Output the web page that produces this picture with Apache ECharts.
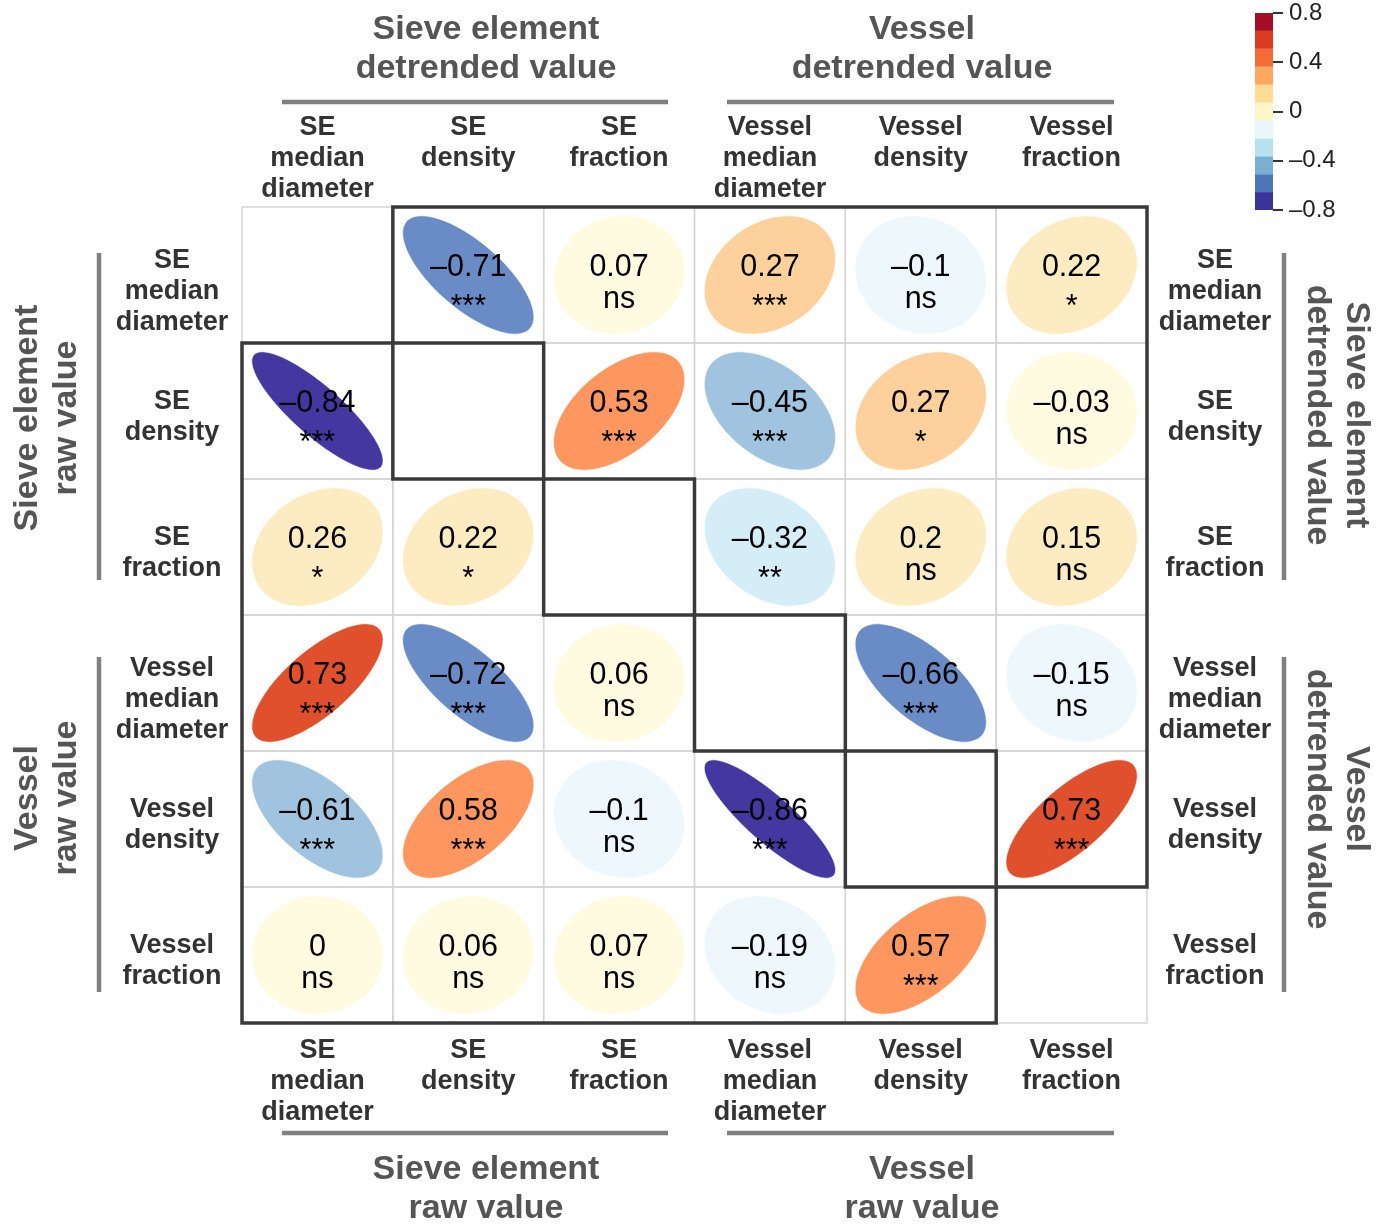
<!DOCTYPE html>
<html><head><meta charset="utf-8">
<script src="https://cdn.jsdelivr.net/npm/echarts@6/dist/echarts.min.js"></script>
<style>html,body{margin:0;padding:0;background:#fff}#chart{width:1386px;height:1224px}</style>
</head><body><div id="chart"></div>
<script>
// ---- data ----
const variables = ['SE\nmedian\ndiameter', 'SE\ndensity', 'SE\nfraction',
                   'Vessel\nmedian\ndiameter', 'Vessel\ndensity', 'Vessel\nfraction'];
// correlation matrix rows (top -> bottom); upper triangle = detrended values, lower = raw values
const corrSEMedianDiameter     = [null,   -0.71,  0.07,  0.2735, -0.10,  0.22];
const corrSEDensity            = [-0.84,  null,   0.53, -0.4548,  0.2735, -0.03];
const corrSEFraction           = [0.26,   0.22,   null, -0.32,   0.20,   0.15];
const corrVesselMedianDiameter = [0.73,  -0.72,   0.06,  null,  -0.66,  -0.15];
const corrVesselDensity        = [-0.61,  0.58,  -0.10, -0.86,   null,   0.73];
const corrVesselFraction       = [0.00,   0.06,   0.07, -0.19,   0.57,   null];
const sigSEMedianDiameter      = ['',    '***', 'ns', '***', 'ns',  '*'];
const sigSEDensity             = ['***', '',    '***','***', '*',   'ns'];
const sigSEFraction            = ['*',   '*',   '',   '**',  'ns',  'ns'];
const sigVesselMedianDiameter  = ['***', '***', 'ns', '',    '***', 'ns'];
const sigVesselDensity         = ['***', '***', 'ns', '***', '',    '***'];
const sigVesselFraction        = ['ns',  'ns',  'ns', 'ns',  '***', ''];
const colorbarMin = -0.8, colorbarMax = 0.8, colorbarInterval = 0.4;

// ---- styles ----
const ellipsePalette = ['#4537A0', '#6A8CC6', '#A0C4DF', '#D5EDF6', '#EEF7FB', '#FFFBE1',
                        '#FDEBC1', '#FDD09C', '#FE965F', '#E0502D', '#B8263A'];
const colorbarPalette = ['#3A3398', '#4A78B9', '#7BAFD0', '#B6E1EE', '#E9F6FA', '#FFF6C8',
                         '#FEDD92', '#FDA85F', '#F46B38', '#DC3A1E', '#A50F26'];
const FONT = '"Liberation Sans", Arial, Helvetica, sans-serif';

const corrRows = [corrSEMedianDiameter, corrSEDensity, corrSEFraction,
                  corrVesselMedianDiameter, corrVesselDensity, corrVesselFraction];
const sigRows = [sigSEMedianDiameter, sigSEDensity, sigSEFraction,
                 sigVesselMedianDiameter, sigVesselDensity, sigVesselFraction];
const n = variables.length;

const cellData = [], gridCells = [];
for (let r = 0; r < n; r++) {
  for (let c = 0; c < n; c++) {
    gridCells.push([c, r]);
    if (corrRows[r][c] !== null) cellData.push([c, r, corrRows[r][c], sigRows[r][c]]);
  }
}
function fmt(v) {
  let s = String(Math.round(v * 100) / 100);
  if (s === '-0') s = '0';
  return s.replace('-', '\u2013');
}
function colorOf(v) {
  const k = Math.min(ellipsePalette.length - 1, Math.max(0, Math.floor((v + 1) / 2 * ellipsePalette.length)));
  return ellipsePalette[k];
}

function renderEllipse(params, api) {
  const c = api.value(0), r = api.value(1), v = api.value(2);
  const sig = cellData[params.dataIndex][3];
  const ctr = api.coord([c, r]);
  const size = api.size([1, 1]);
  const R = 0.435;
  const d = Math.acos(v);
  const pts = [];
  for (let k = 0; k < 96; k++) {
    const t = k / 96 * 2 * Math.PI;
    pts.push([ctr[0] + R * size[0] * Math.cos(t + d / 2), ctr[1] - R * size[1] * Math.cos(t - d / 2)]);
  }
  const isStar = sig.charAt(0) === '*';
  return {
    type: 'group',
    children: [
      { type: 'polygon', shape: { points: pts }, style: { fill: colorOf(v), stroke: 'rgba(255,255,255,0.6)', lineWidth: 1 } },
      { type: 'text', x: ctr[0], y: ctr[1] - 7,
        style: { text: fmt(v), fill: '#000', fontSize: 30.5, fontFamily: FONT, align: 'center', verticalAlign: 'middle' } },
      { type: 'text', x: ctr[0], y: ctr[1] + (isStar ? 33 : 25),
        style: { text: sig, fill: '#000', fontSize: 30.5, fontFamily: FONT, align: 'center', verticalAlign: 'middle' } }
    ]
  };
}

function renderGridCell(params, api) {
  const ctr = api.coord([api.value(0), api.value(1)]);
  const size = api.size([1, 1]);
  return { type: 'rect', shape: { x: ctr[0] - size[0] / 2, y: ctr[1] - size[1] / 2, width: size[0], height: size[1] },
           style: { fill: null, stroke: '#D3D3D3', lineWidth: 1.4 } };
}

function renderOutline(params, api) {
  const c0 = api.coord([0, 0]);
  const s = api.size([1, 1]);
  const bx = i => c0[0] - s[0] / 2 + i * s[0];
  const by = j => c0[1] - s[1] / 2 + j * s[1];
  const upper = [[1, 0], [n, 0], [n, n - 1]];
  for (let k = n - 1; k >= 1; k--) { upper.push([k, k]); upper.push([k, k - 1]); }
  const lower = [[0, 1]];
  for (let k = 1; k <= n - 1; k++) { lower.push([k, k]); lower.push([k, k + 1]); }
  lower.push([0, n]);
  const toPx = p => [bx(p[0]), by(p[1])];
  const st = { fill: null, stroke: '#3A3A3A', lineWidth: 3.5, lineJoin: 'miter' };
  return { type: 'group', children: [
    { type: 'polygon', shape: { points: upper.map(toPx) }, style: st },
    { type: 'polygon', shape: { points: lower.map(toPx) }, style: st }
  ]};
}

const segCount = colorbarPalette.length;
const colorbarData = colorbarPalette.map((col, i) => [0,
  colorbarMin + i * (colorbarMax - colorbarMin) / segCount,
  colorbarMin + (i + 1) * (colorbarMax - colorbarMin) / segCount]);
function renderColorbar(params, api) {
  const lo = api.coord([0, api.value(1)]);
  const hi = api.coord([1, api.value(2)]);
  return { type: 'rect', shape: { x: lo[0], y: hi[1], width: hi[0] - lo[0], height: lo[1] - hi[1] },
           style: { fill: colorbarPalette[params.dataIndex] } };
}

const labelBase = { fontSize: 27, fontWeight: 'bold', color: '#333', fontFamily: FONT, lineHeight: 31, interval: 0 };
const hidden = { axisLine: { show: false }, axisTick: { show: false }, splitLine: { show: false } };
// row labels: a small spacer line nudges each name slightly below the row centre
const rowLabelFormatter = v => (v.split('\n').length > 2 ? '{sp3| }\n' : '{sp2| }\n') + v;
const rowRich = { sp3: { lineHeight: 34, fontSize: 4 }, sp2: { lineHeight: 13, fontSize: 4 } };

const titleStyle = { fill: '#555', fontSize: 34, fontWeight: 'bold', fontFamily: FONT, align: 'center', verticalAlign: 'middle', lineHeight: 39 };
function title(text, x, y, rot) {
  return { type: 'text', x: x, y: y, rotation: rot || 0, style: Object.assign({ text: text }, titleStyle) };
}
function bar(x1, y1, x2, y2) {
  return { type: 'line', shape: { x1, y1, x2, y2 }, style: { stroke: '#808080', lineWidth: 4.5 } };
}

const chart = echarts.init(document.getElementById('chart'), null, { renderer: 'canvas' });
chart.setOption({
  backgroundColor: '#fff',
  animation: false,
  grid: [
    { left: 242, top: 207, width: 905, height: 816, containLabel: false, outerBoundsMode: 'none' },
    { left: 1255, top: 13, width: 18, height: 197, containLabel: false, outerBoundsMode: 'none' }
  ],
  xAxis: [
    Object.assign({ type: 'category', data: variables, position: 'top', gridIndex: 0,
      axisLabel: Object.assign({ margin: 95, verticalAlign: 'top' }, labelBase) }, hidden),
    Object.assign({ type: 'category', data: variables, position: 'bottom', gridIndex: 0,
      axisLabel: Object.assign({ margin: 12, verticalAlign: 'top' }, labelBase) }, hidden),
    { type: 'value', gridIndex: 1, min: 0, max: 1, show: false }
  ],
  yAxis: [
    Object.assign({ type: 'category', data: variables, inverse: true, position: 'left', gridIndex: 0,
      axisLabel: Object.assign({ margin: 70, align: 'center', verticalAlign: 'middle', formatter: rowLabelFormatter, rich: rowRich }, labelBase) }, hidden),
    Object.assign({ type: 'category', data: variables, inverse: true, position: 'right', gridIndex: 0,
      axisLabel: Object.assign({ margin: 68, align: 'center', verticalAlign: 'middle', formatter: rowLabelFormatter, rich: rowRich }, labelBase) }, hidden),
    { type: 'value', gridIndex: 1, min: colorbarMin, max: colorbarMax, interval: colorbarInterval, position: 'right',
      axisLine: { show: false, onZero: false }, splitLine: { show: false }, z: 5,
      axisTick: { show: true, inside: false, length: 10, lineStyle: { color: '#333', width: 2 } },
      axisLabel: { margin: 16, fontSize: 24, color: '#222', fontFamily: FONT,
                   formatter: v => fmt(v) } }
  ],
  graphic: [
    title('Sieve element\ndetrended value', 486, 49),
    title('Vessel\ndetrended value', 922, 49),
    bar(282, 102, 668, 102), bar(727, 102, 1114, 102),
    title('Sieve element\nraw value', 486, 1189),
    title('Vessel\nraw value', 922, 1189),
    bar(282, 1133, 668, 1133), bar(727, 1133, 1114, 1133),
    title('Sieve element\nraw value', 47, 418, Math.PI / 2),
    title('Vessel\nraw value', 47, 798, Math.PI / 2),
    bar(99, 253, 99, 580), bar(99, 657, 99, 992),
    title('Sieve element\ndetrended value', 1337, 415, -Math.PI / 2),
    title('Vessel\ndetrended value', 1337, 799, -Math.PI / 2),
    bar(1284, 253, 1284, 580), bar(1284, 657, 1284, 992)
  ],
  series: [
    { type: 'custom', xAxisIndex: 0, yAxisIndex: 0, data: gridCells, renderItem: renderGridCell, z: 1, silent: true },
    { type: 'custom', xAxisIndex: 0, yAxisIndex: 0, data: cellData, renderItem: renderEllipse, z: 2,
      encode: { x: 0, y: 1 }, silent: true },
    { type: 'custom', xAxisIndex: 0, yAxisIndex: 0, data: [[0, 0]], renderItem: renderOutline, z: 3, clip: false, silent: true },
    { type: 'custom', xAxisIndex: 2, yAxisIndex: 2, data: colorbarData, renderItem: renderColorbar, z: 2,
      encode: { x: 0, y: 1 }, silent: true }
  ]
});
</script></body></html>
